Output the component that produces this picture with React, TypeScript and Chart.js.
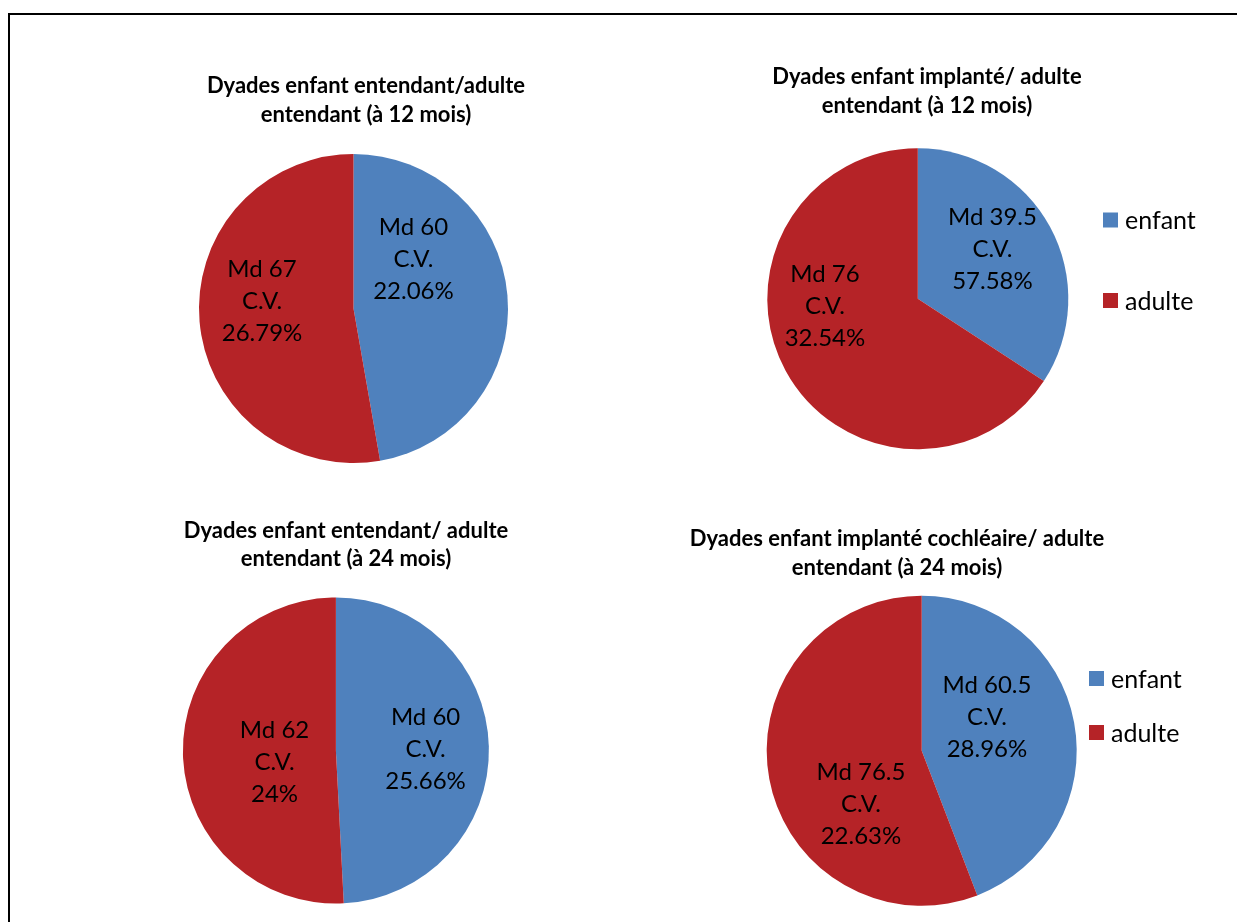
import React, { useEffect, useRef } from "react";
import { Chart, registerables } from "chart.js";

Chart.register(...registerables);

// ---- data ----
const categories = ["enfant", "adulte"];
const seriesColors = ["#4F81BD", "#B52327"];

const title12Entendant = ["Dyades enfant entendant/adulte", "entendant (à 12 mois)"];
const medians12Entendant = [60, 67];
const cv12Entendant = ["22.06%", "26.79%"];

const title12Implante = ["Dyades enfant implanté/ adulte", "entendant (à 12 mois)"];
const medians12Implante = [39.5, 76];
const cv12Implante = ["57.58%", "32.54%"];

const title24Entendant = ["Dyades enfant entendant/ adulte", "entendant (à 24 mois)"];
const medians24Entendant = [60, 62];
const cv24Entendant = ["25.66%", "24%"];

const title24Implante = ["Dyades enfant implanté cochléaire/ adulte", "entendant (à 24 mois)"];
const medians24Implante = [60.5, 76.5];
const cv24Implante = ["28.96%", "22.63%"];

// ---- layout ----
const W = 1237;
const H = 922;
const FONT = "Lato, 'Open Sans', sans-serif";
const TITLE_SIZE = 22;
const LABEL_SIZE = 24;
const LABEL_LINE = 32;
const LEGEND_SIZE = 25;

type Panel = {
  title: string[];
  values: number[];
  cv: string[];
  cx: number;
  cy: number;
  r: number;
  titleX: number;
  titleY: number[];
  labelPos: number[][];
  legend: null | { boxX: number; textX: number; ys: number[] };
};

const panels: Panel[] = [
  {
    title: title12Entendant, values: medians12Entendant, cv: cv12Entendant,
    cx: 353.5, cy: 308.5, r: 154.5, titleX: 366, titleY: [93, 122],
    labelPos: [[0.388, -0.324], [-0.592, -0.055]], legend: null,
  },
  {
    title: title12Implante, values: medians12Implante, cv: cv12Implante,
    cx: 917.8, cy: 298.8, r: 150.5, titleX: 927, titleY: [84, 113],
    labelPos: [[0.496, -0.338], [-0.617, 0.041]],
    legend: { boxX: 1103, textX: 1125, ys: [220, 300.5] },
  },
  {
    title: title24Entendant, values: medians24Entendant, cv: cv24Entendant,
    cx: 335.9, cy: 750.5, r: 153, titleX: 346, titleY: [538, 566],
    labelPos: [[0.586, -0.014], [-0.401, 0.073]], legend: null,
  },
  {
    title: title24Implante, values: medians24Implante, cv: cv24Implante,
    cx: 921.7, cy: 750.7, r: 155, titleX: 897, titleY: [546, 575],
    labelPos: [[0.421, -0.219], [-0.392, 0.339]],
    legend: { boxX: 1089, textX: 1111, ys: [678.5, 732.5] },
  },
];

function makeOverlay(p: Panel) {
  return {
    id: "overlay",
    afterDraw(chart: any) {
      const ctx = chart.ctx as CanvasRenderingContext2D;
      ctx.save();
      ctx.fillStyle = "#000";
      ctx.textAlign = "center";
      ctx.textBaseline = "alphabetic";
      ctx.font = `bold ${TITLE_SIZE}px ${FONT}`;
      p.title.forEach((line, i) => ctx.fillText(line, p.titleX, p.titleY[i]));

      const meta = chart.getDatasetMeta(0);
      ctx.font = `${LABEL_SIZE}px ${FONT}`;
      meta.data.forEach((arc: any, i: number) => {
        const v = chart.data.datasets[0].data[i];
        const lines = [`Md ${v}`, "C.V.", p.cv[i]];
        const R = arc.outerRadius;
        const x = arc.x + p.labelPos[i][0] * R;
        const y = arc.y + p.labelPos[i][1] * R;
        lines.forEach((t, k) => {
          const cy = y + (k - 1) * LABEL_LINE;
          ctx.fillText(t, x, cy + 0.36 * LABEL_SIZE);
        });
      });

      if (p.legend) {
        const lg = p.legend;
        ctx.textAlign = "left";
        ctx.font = `${LEGEND_SIZE}px ${FONT}`;
        chart.data.labels.forEach((lab: string, i: number) => {
          const yc = lg.ys[i];
          ctx.fillStyle = chart.data.datasets[0].backgroundColor[i];
          ctx.fillRect(lg.boxX, yc - 7.5, 15, 15);
          ctx.fillStyle = "#000";
          ctx.fillText(lab, lg.textX, yc + 0.36 * LEGEND_SIZE);
        });
      }
      ctx.restore();
    },
  };
}

function PieCanvas({ panel }: { panel: Panel }) {
  const ref = useRef<HTMLCanvasElement | null>(null);
  useEffect(() => {
    if (!ref.current) return;
    const p = panel;
    const chart = new Chart(ref.current, {
      type: "pie",
      data: {
        labels: categories,
        datasets: [
          {
            data: p.values,
            backgroundColor: seriesColors,
            borderWidth: 0,
          },
        ],
      },
      options: {
        responsive: false,
        animation: false,
        events: [],
        layout: {
          padding: {
            left: p.cx - p.r,
            top: p.cy - p.r,
            right: W - p.cx - p.r,
            bottom: H - p.cy - p.r,
          },
        },
        plugins: {
          legend: { display: false },
          title: { display: false },
          tooltip: { enabled: false },
        },
      },
      plugins: [makeOverlay(p)],
    } as any);
    return () => chart.destroy();
  }, [panel]);
  return (
    <canvas
      ref={ref}
      width={W}
      height={H}
      style={{ position: "absolute", left: 0, top: 0, width: W, height: H, display: "block" }}
    />
  );
}

export default function App() {
  return (
    <>
      <style>{"html,body{margin:0;padding:0;overflow:hidden;background:#fff;}"}</style>
      <div
        style={{
          position: "fixed",
          left: 0,
          top: 0,
          width: W,
          height: H,
          overflow: "hidden",
          background: "#fff",
        }}
      >
        <div
          style={{
            position: "absolute",
            left: 8,
            top: 13,
            width: W,
            height: 2,
            background: "#000",
          }}
        />
        <div
          style={{
            position: "absolute",
            left: 8,
            top: 13,
            width: 2,
            height: H,
            background: "#000",
          }}
        />
        {panels.map((p, i) => (
          <PieCanvas key={i} panel={p} />
        ))}
      </div>
    </>
  );
}
